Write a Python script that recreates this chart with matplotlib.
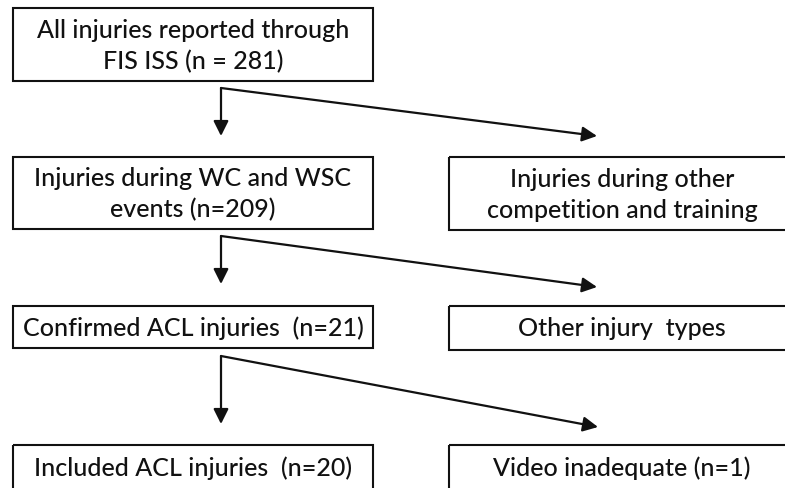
import matplotlib.pyplot as plt
from matplotlib.patches import Rectangle

# box texts, top to bottom
left_labels = [
    "All injuries reported through\nFIS ISS (n = 281)",
    "Injuries during WC and WSC\nevents (n=209)",
    "Confirmed ACL injuries  (n=21)",
    "Included ACL injuries  (n=20)",
]
right_labels = [
    "Injuries during other\ncompetition and training",
    "Other injury  types",
    "Video inadequate (n=1)",
]

# layout in pixel coordinates (y grows downward)
left_x = (13, 373)
right_x = (449, 795)
left_rows = [(9, 82), (158, 230), (307, 349), (446, 500)]
right_rows = [(158, 231), (307, 351), (446, 500)]
text_y = [46, 194, 328, 468]
right_text_y = [195, 329, 468]
split_x = 221
split_y = [89, 237, 357]
down_tip = [137, 285, 425]
side_tip = [(597, 137), (597, 288), (598, 428)]

FONT = "Lato"
TXT = "#111111"

fig = plt.figure(figsize=(7.85, 4.89), dpi=100)
ax = fig.add_axes([0, 0, 1, 1])
ax.set_xlim(0, 785)
ax.set_ylim(489, 0)
ax.axis("off")


def box(x0, x1, y0, y1, label, ty):
    ax.add_patch(Rectangle((x0, y0), x1 - x0, y1 - y0, fill=False,
                           edgecolor="#111111", linewidth=1.5))
    ax.text((x0 + x1) / 2, ty, label, ha="center", va="center",
            fontsize=18, family=FONT, weight="medium", color=TXT,
            linespacing=1.42)


for (y0, y1), lab, ty in zip(left_rows, left_labels, text_y):
    box(left_x[0], left_x[1], y0, y1, lab, ty)
for (y0, y1), lab, ty in zip(right_rows, right_labels, right_text_y):
    box(right_x[0], right_x[1], y0, y1, lab, ty)

arrow = dict(arrowstyle="-|>,head_length=0.9,head_width=0.45",
             color="#111111", lw=1.6, shrinkA=0, shrinkB=0)
for sy, dy, (tx, tyy) in zip(split_y, down_tip, side_tip):
    ax.annotate("", xy=(split_x, dy), xytext=(split_x, sy), arrowprops=arrow)
    ax.annotate("", xy=(tx, tyy), xytext=(split_x, sy), arrowprops=arrow)

fig.savefig("out.png", dpi=100, facecolor="white")
